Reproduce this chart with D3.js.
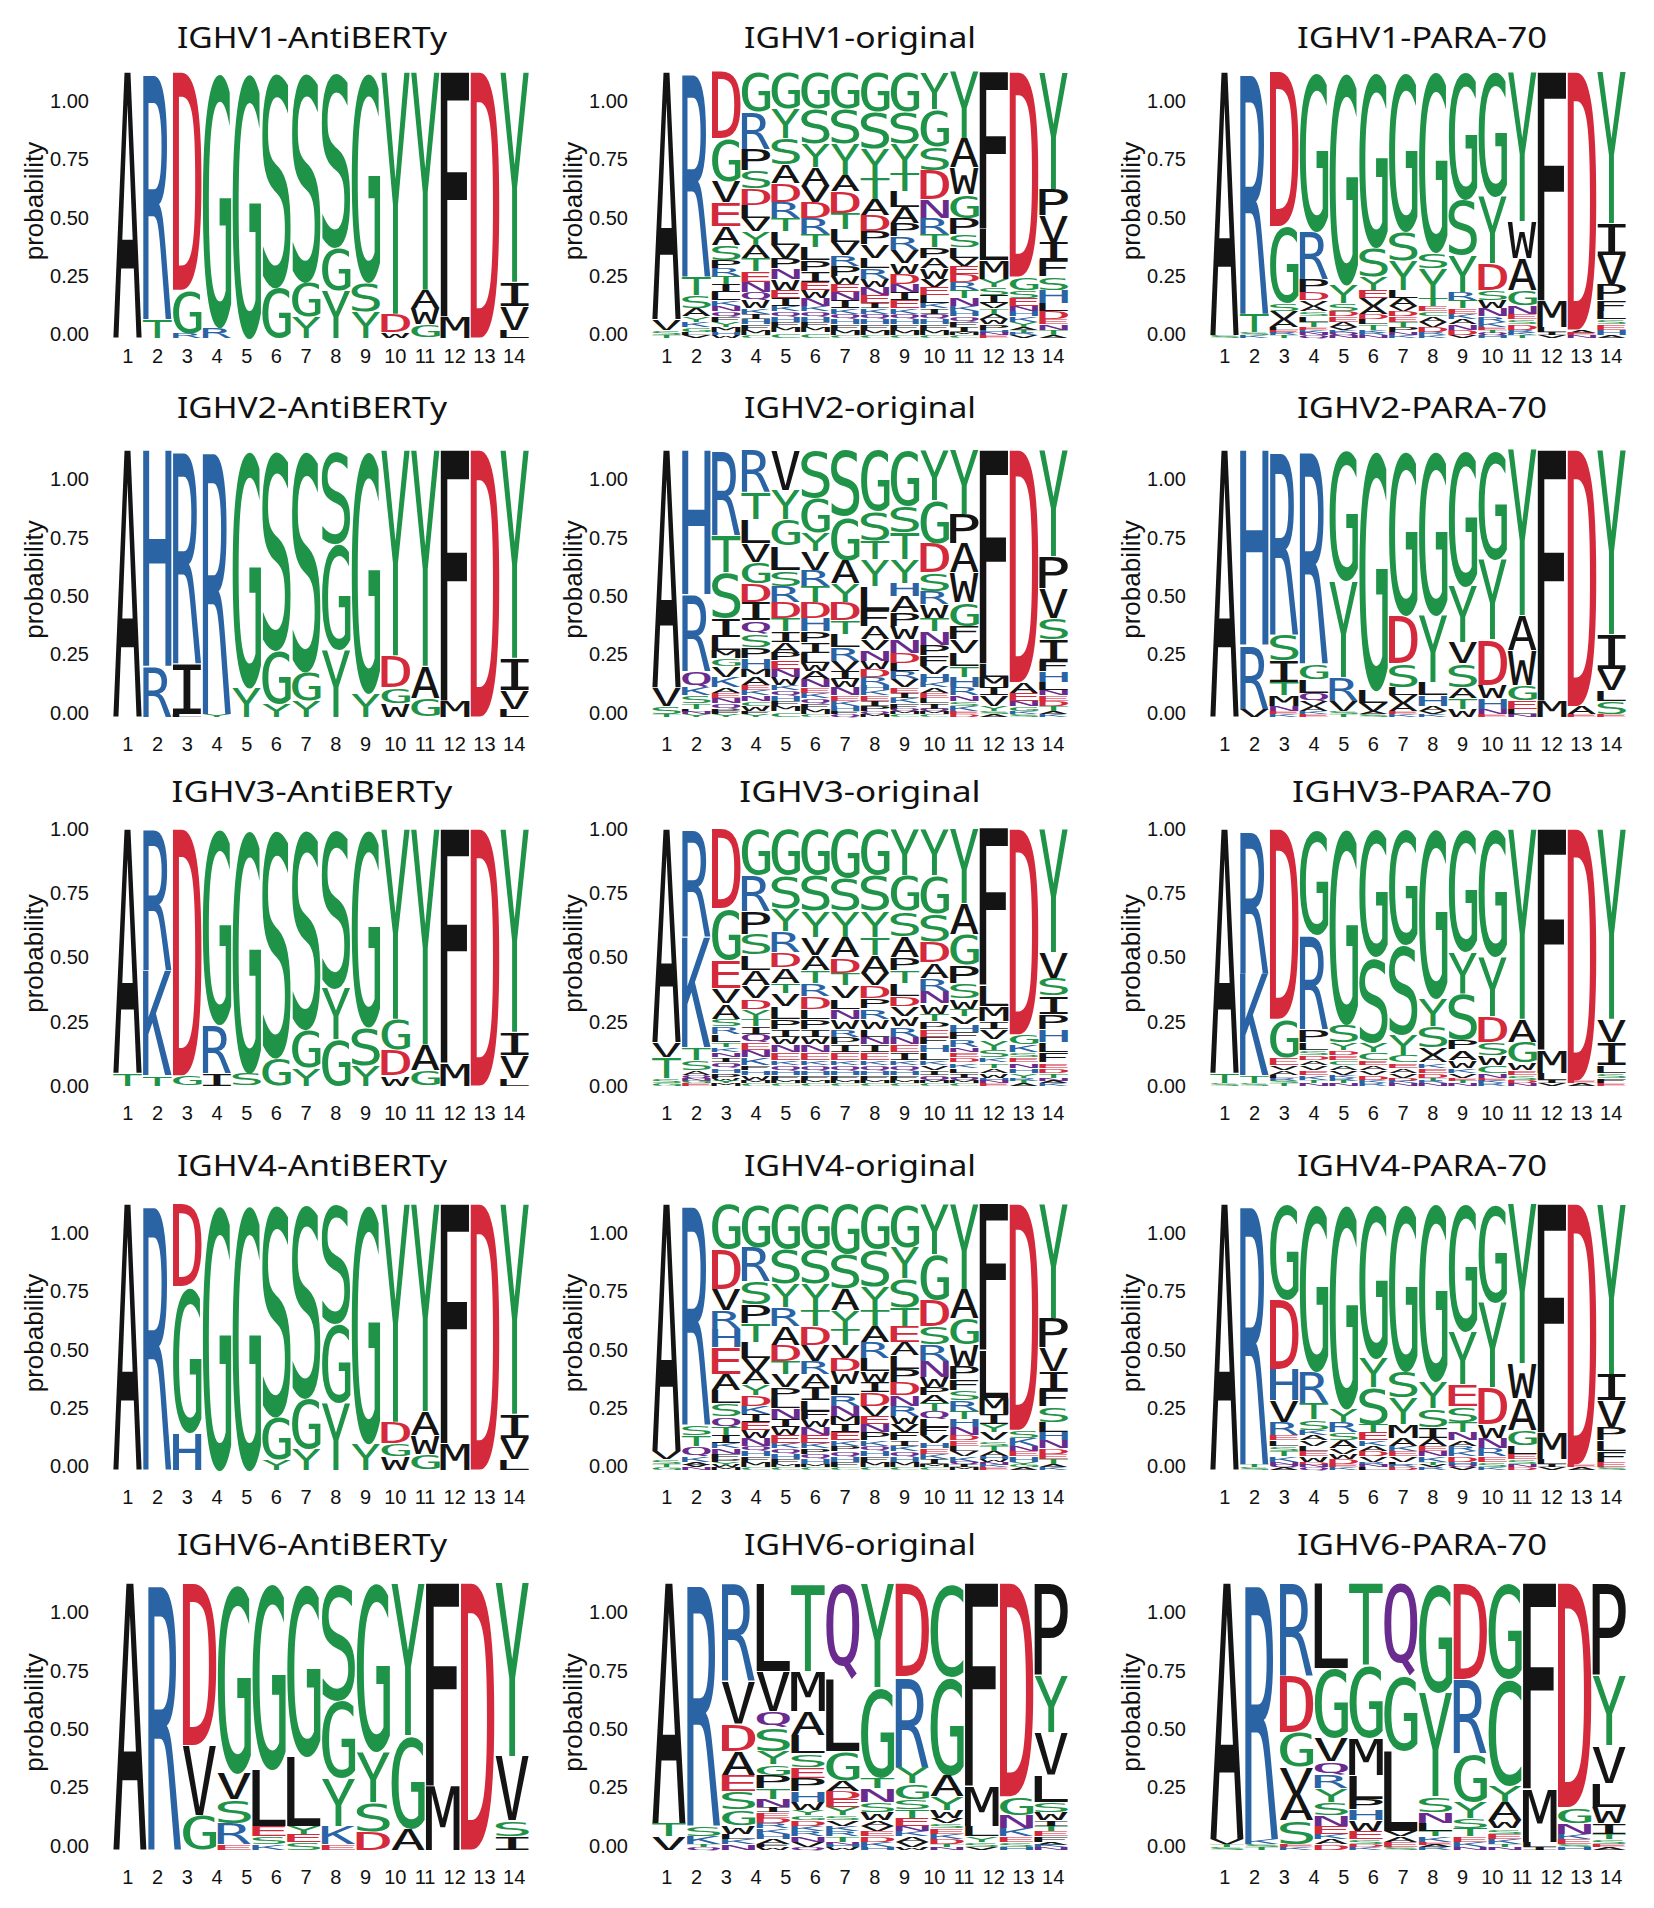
<!DOCTYPE html>
<html>
<head>
<meta charset="utf-8">
<script src="https://cdnjs.cloudflare.com/ajax/libs/d3/7.8.5/d3.min.js"></script>
<style>
  body { margin: 0; background: #fff; }
</style>
</head>
<body>
<svg id="chart"></svg>
<script>
// Each column lists residues from the top of the stack down: [residue, probability]

const ighv1AntiBERTy = [
  [['A', 1]],
  [['R', .93], ['T', .07]],
  [['D', .82], ['G', .16], ['R', .02]],
  [['G', .96], ['R', .04]],
  [['G', 1]],
  [['S', .81], ['G', .19]],
  [['S', .79], ['G', .13], ['Y', .08]],
  [['S', .66], ['G', .16], ['Y', .18]],
  [['G', .79], ['S', .11], ['Y', .10]],
  [['Y', .91], ['D', .07], ['W', .02]],
  [['Y', .82], ['A', .07], ['W', .06], ['G', .05]],
  [['F', .92], ['M', .08]],
  [['D', 1]],
  [['Y', .79], ['I', .09], ['V', .09], ['L', .03]]
];

const ighv1Original = [
  [['A', .93], ['V', .04], ['S', .02], ['T', .01]],
  [['R', .77], ['T', .07], ['S', .05], ['A', .03], ['Y', .02], ['K', .02], ['G', .02], ['L', .01], ['V', .01]],
  [['D', .25], ['G', .16], ['V', .08], ['E', .09], ['A', .07], ['S', .06], ['P', .03], ['R', .03], ['T', .03], ['I', .03], ['L', .03], ['K', .02], ['N', .02], ['Q', .02], ['F', .02], ['Y', .02], ['M', .02], ['H', .01], ['W', .01]],
  [['G', .15], ['R', .14], ['P', .08], ['S', .07], ['D', .06], ['L', .05], ['V', .05], ['Y', .05], ['A', .05], ['T', .05], ['E', .04], ['N', .04], ['Q', .03], ['W', .03], ['K', .02], ['I', .02], ['H', .02], ['F', .02], ['M', .02], ['C', .01]],
  [['G', .14], ['Y', .11], ['S', .10], ['A', .07], ['D', .07], ['R', .06], ['T', .05], ['L', .05], ['V', .05], ['P', .04], ['N', .04], ['W', .04], ['E', .03], ['I', .03], ['K', .02], ['Q', .02], ['H', .02], ['F', .02], ['M', .02], ['C', .02]],
  [['G', .14], ['S', .13], ['Y', .09], ['A', .07], ['V', .06], ['D', .06], ['R', .06], ['T', .05], ['L', .05], ['P', .04], ['I', .04], ['E', .03], ['W', .03], ['N', .03], ['K', .02], ['Q', .02], ['H', .02], ['F', .02], ['M', .02], ['C', .02]],
  [['G', .14], ['S', .13], ['Y', .12], ['A', .06], ['D', .08], ['T', .06], ['L', .05], ['V', .05], ['R', .04], ['P', .04], ['W', .03], ['E', .03], ['N', .03], ['I', .03], ['K', .02], ['Q', .02], ['H', .02], ['F', .02], ['M', .02], ['C', .01]],
  [['G', .15], ['S', .14], ['Y', .11], ['T', .08], ['A', .06], ['D', .06], ['P', .05], ['V', .05], ['L', .04], ['R', .04], ['W', .03], ['N', .03], ['E', .03], ['I', .02], ['K', .02], ['Q', .02], ['H', .02], ['F', .02], ['M', .02], ['C', .01]],
  [['G', .15], ['S', .12], ['Y', .11], ['T', .07], ['L', .06], ['A', .06], ['P', .05], ['R', .05], ['V', .05], ['W', .04], ['D', .04], ['N', .03], ['I', .03], ['E', .03], ['K', .02], ['Q', .02], ['H', .02], ['F', .02], ['M', .02], ['C', .01]],
  [['Y', .14], ['G', .14], ['S', .09], ['D', .11], ['N', .07], ['R', .06], ['T', .05], ['P', .04], ['A', .04], ['W', .04], ['V', .03], ['E', .03], ['L', .03], ['K', .02], ['I', .02], ['Q', .02], ['H', .02], ['F', .02], ['M', .02], ['C', .01]],
  [['Y', .25], ['A', .11], ['W', .10], ['G', .09], ['P', .06], ['S', .05], ['L', .04], ['V', .03], ['E', .03], ['D', .03], ['R', .03], ['T', .03], ['N', .03], ['K', .02], ['H', .02], ['Q', .02], ['F', .02], ['I', .02], ['M', .01], ['C', .01]],
  [['F', .59], ['L', .12], ['M', .07], ['Y', .03], ['S', .03], ['I', .03], ['V', .02], ['T', .02], ['A', .02], ['W', .02], ['P', .02], ['H', .01], ['N', .01], ['E', .01]],
  [['D', .77], ['G', .05], ['S', .03], ['E', .03], ['N', .02], ['H', .02], ['K', .02], ['Y', .02], ['A', .01], ['T', .01], ['R', .01], ['V', .01]],
  [['Y', .44], ['P', .10], ['V', .10], ['I', .07], ['F', .06], ['S', .05], ['H', .05], ['L', .03], ['D', .03], ['E', .02], ['N', .02], ['T', .02], ['A', .01]]
];

const ighv1Para70 = [
  [['A', .99], ['S', .01]],
  [['R', .91], ['T', .07], ['S', .01], ['K', .01]],
  [['D', .58], ['G', .29], ['S', .03], ['V', .03], ['A', .03], ['L', .01], ['E', .01], ['R', .01], ['T', .01]],
  [['G', .60], ['R', .18], ['P', .05], ['D', .03], ['V', .02], ['A', .02], ['S', .02], ['L', .02], ['T', .02], ['E', .01], ['K', .01], ['N', .01], ['Q', .01]],
  [['G', .80], ['Y', .07], ['S', .03], ['D', .02], ['E', .02], ['A', .02], ['V', .01], ['K', .01], ['Q', .01], ['N', .01]],
  [['G', .66], ['S', .11], ['Y', .05], ['E', .03], ['V', .03], ['A', .03], ['D', .02], ['L', .02], ['T', .02], ['K', .01], ['R', .01], ['N', .01]],
  [['G', .60], ['S', .11], ['Y', .11], ['L', .03], ['A', .03], ['V', .02], ['D', .02], ['E', .02], ['T', .02], ['P', .02], ['N', .01], ['K', .01]],
  [['G', .68], ['S', .06], ['Y', .11], ['T', .03], ['E', .02], ['C', .02], ['A', .02], ['V', .02], ['D', .02], ['R', .01], ['K', .01]],
  [['G', .48], ['S', .21], ['Y', .14], ['R', .03], ['T', .03], ['E', .02], ['K', .02], ['A', .02], ['N', .02], ['D', .02], ['V', .01]],
  [['G', .47], ['Y', .25], ['D', .10], ['S', .04], ['W', .03], ['N', .03], ['R', .02], ['K', .02], ['E', .01], ['T', .01], ['Q', .01], ['H', .01]],
  [['Y', .56], ['W', .14], ['A', .12], ['G', .06], ['N', .03], ['E', .02], ['S', .02], ['D', .02], ['R', .01], ['K', .01], ['T', .01]],
  [['F', .86], ['M', .10], ['L', .02], ['I', .01], ['V', .01]],
  [['D', .97], ['A', .01], ['E', .01], ['N', .01]],
  [['Y', .57], ['I', .12], ['V', .11], ['P', .06], ['F', .04], ['L', .03], ['S', .02], ['E', .02], ['H', .02], ['A', .01]]
];

const ighv2AntiBERTy = [
  [['A', 1]],
  [['H', .81], ['R', .19]],
  [['R', .80], ['I', .19], ['L', .01]],
  [['R', .99], ['Y', .01]],
  [['G', .89], ['Y', .11]],
  [['S', .75], ['G', .20], ['Y', .05]],
  [['S', .83], ['G', .11], ['Y', .06]],
  [['S', .35], ['G', .40], ['Y', .25]],
  [['G', .91], ['Y', .09]],
  [['Y', .77], ['D', .12], ['G', .06], ['W', .05]],
  [['Y', .81], ['A', .12], ['G', .07]],
  [['F', .94], ['M', .06]],
  [['D', 1]],
  [['Y', .78], ['I', .12], ['V', .07], ['L', .03]]
];

const ighv2Original = [
  [['A', .89], ['V', .07], ['S', .03], ['T', .01]],
  [['H', .54], ['R', .29], ['Q', .06], ['K', .03], ['S', .03], ['T', .02], ['L', .01], ['N', .01], ['Y', .01]],
  [['R', .32], ['T', .14], ['S', .17], ['I', .07], ['L', .05], ['M', .03], ['G', .03], ['V', .04], ['K', .04], ['A', .02], ['E', .02], ['N', .02], ['Q', .02], ['P', .01], ['F', .01], ['Y', .01]],
  [['R', .16], ['T', .10], ['L', .09], ['V', .07], ['G', .08], ['D', .07], ['I', .07], ['Q', .05], ['S', .05], ['P', .04], ['H', .04], ['M', .03], ['A', .03], ['E', .02], ['K', .02], ['N', .02], ['C', .02], ['W', .02], ['F', .01], ['Y', .01]],
  [['V', .15], ['Y', .11], ['G', .10], ['L', .09], ['S', .06], ['R', .06], ['D', .06], ['T', .05], ['I', .04], ['A', .04], ['P', .03], ['E', .03], ['N', .03], ['W', .03], ['K', .02], ['Q', .02], ['H', .02], ['F', .02], ['M', .02], ['C', .02]],
  [['S', .18], ['G', .13], ['Y', .07], ['V', .07], ['R', .06], ['T', .06], ['D', .06], ['H', .05], ['P', .04], ['I', .04], ['L', .04], ['W', .03], ['A', .03], ['N', .03], ['E', .02], ['K', .02], ['Q', .02], ['F', .02], ['M', .02], ['C', .01]],
  [['S', .25], ['G', .16], ['A', .09], ['Y', .07], ['D', .07], ['T', .05], ['L', .05], ['R', .05], ['V', .04], ['I', .03], ['W', .03], ['N', .03], ['E', .02], ['K', .02], ['H', .02], ['F', .01], ['Q', .01]],
  [['G', .23], ['S', .11], ['T', .07], ['Y', .10], ['L', .09], ['F', .06], ['A', .05], ['V', .04], ['N', .04], ['W', .03], ['D', .03], ['R', .03], ['H', .02], ['K', .02], ['E', .02], ['I', .02], ['P', .02], ['Q', .01], ['M', .01]],
  [['G', .21], ['S', .10], ['T', .10], ['Y', .09], ['H', .05], ['A', .06], ['P', .05], ['W', .05], ['N', .05], ['D', .04], ['L', .03], ['R', .03], ['V', .03], ['E', .02], ['I', .02], ['K', .02], ['F', .02], ['Q', .01], ['M', .01], ['C', .01]],
  [['Y', .19], ['G', .16], ['D', .11], ['S', .07], ['R', .05], ['W', .05], ['T', .05], ['N', .05], ['P', .04], ['F', .04], ['V', .03], ['H', .03], ['K', .02], ['A', .02], ['E', .02], ['L', .02], ['I', .02], ['Q', .01], ['M', .01], ['C', .01]],
  [['Y', .24], ['P', .11], ['A', .11], ['W', .11], ['G', .09], ['F', .05], ['V', .05], ['L', .05], ['T', .04], ['H', .04], ['R', .03], ['N', .02], ['S', .02], ['K', .02], ['E', .01], ['D', .01]],
  [['F', .80], ['L', .05], ['M', .04], ['I', .03], ['V', .04], ['Y', .02], ['S', .01], ['A', .01]],
  [['D', .87], ['A', .04], ['E', .03], ['N', .02], ['G', .02], ['K', .01], ['S', .01]],
  [['Y', .40], ['P', .12], ['V', .11], ['S', .08], ['I', .08], ['F', .04], ['H', .04], ['L', .03], ['N', .02], ['E', .02], ['D', .02], ['T', .02], ['A', .01], ['K', .01]]
];

const ighv2Para70 = [
  [['A', 1]],
  [['H', .73], ['R', .24], ['V', .03]],
  [['R', .69], ['S', .10], ['I', .08], ['T', .05], ['M', .04], ['N', .02], ['E', .01], ['K', .01]],
  [['R', .80], ['G', .06], ['L', .05], ['Q', .03], ['V', .02], ['A', .02], ['K', .01], ['E', .01]],
  [['G', .49], ['Y', .36], ['R', .09], ['V', .04], ['S', .01], ['T', .01]],
  [['G', .90], ['L', .05], ['V', .03], ['A', .01], ['S', .01]],
  [['G', .62], ['D', .18], ['S', .09], ['L', .03], ['V', .03], ['A', .03], ['E', .01], ['K', .01]],
  [['G', .62], ['Y', .25], ['L', .05], ['H', .04], ['A', .02], ['V', .01], ['K', .01]],
  [['G', .51], ['Y', .21], ['V', .08], ['S', .09], ['A', .04], ['T', .04], ['W', .03]],
  [['G', .41], ['Y', .30], ['D', .17], ['W', .05], ['H', .04], ['N', .02], ['E', .01]],
  [['Y', .62], ['A', .13], ['W', .13], ['G', .06], ['E', .03], ['L', .02], ['N', .01]],
  [['F', .94], ['M', .06]],
  [['D', .96], ['A', .03], ['E', .01]],
  [['Y', .69], ['I', .13], ['V', .08], ['L', .04], ['S', .05], ['E', .01]]
];

const ighv3AntiBERTy = [
  [['A', .95], ['T', .05]],
  [['R', .55], ['K', .41], ['T', .04]],
  [['D', .96], ['G', .04]],
  [['G', .76], ['R', .19], ['I', .05]],
  [['G', .95], ['S', .05]],
  [['S', .89], ['G', .11]],
  [['S', .78], ['G', .15], ['Y', .07]],
  [['S', .62], ['Y', .20], ['G', .18]],
  [['G', .77], ['S', .15], ['Y', .08]],
  [['Y', .74], ['G', .12], ['D', .10], ['W', .04]],
  [['Y', .84], ['A', .10], ['G', .06]],
  [['F', .91], ['M', .09]],
  [['D', 1]],
  [['Y', .79], ['I', .09], ['V', .09], ['L', .03]]
];

const ighv3Original = [
  [['A', .83], ['V', .06], ['T', .08], ['S', .02], ['G', .01]],
  [['R', .42], ['K', .43], ['T', .05], ['S', .04], ['A', .02], ['Q', .01], ['N', .01], ['G', .01], ['E', .01]],
  [['D', .31], ['G', .20], ['E', .11], ['V', .06], ['A', .06], ['S', .03], ['R', .03], ['L', .03], ['T', .02], ['K', .02], ['N', .02], ['I', .02], ['Q', .02], ['H', .02], ['P', .02], ['W', .01], ['Y', .01], ['M', .01]],
  [['G', .18], ['R', .14], ['P', .09], ['S', .08], ['L', .06], ['A', .06], ['V', .05], ['D', .04], ['Y', .04], ['T', .03], ['I', .03], ['Q', .03], ['E', .03], ['N', .03], ['K', .03], ['F', .02], ['H', .02], ['W', .02], ['M', .01], ['C', .01]],
  [['G', .18], ['S', .13], ['Y', .09], ['R', .08], ['D', .06], ['A', .06], ['T', .04], ['V', .05], ['L', .05], ['P', .04], ['I', .03], ['W', .03], ['N', .03], ['E', .03], ['K', .02], ['Q', .02], ['H', .02], ['F', .02], ['M', .01], ['C', .01]],
  [['G', .18], ['S', .14], ['Y', .10], ['V', .07], ['A', .06], ['T', .05], ['R', .05], ['D', .05], ['L', .04], ['P', .04], ['I', .03], ['W', .03], ['N', .03], ['E', .03], ['K', .02], ['Q', .02], ['H', .02], ['F', .02], ['M', .01], ['C', .01]],
  [['G', .19], ['S', .13], ['Y', .10], ['A', .08], ['D', .06], ['T', .05], ['V', .05], ['L', .04], ['N', .04], ['W', .04], ['R', .03], ['P', .03], ['I', .03], ['E', .03], ['K', .02], ['Q', .02], ['H', .02], ['F', .02], ['M', .01], ['C', .01]],
  [['G', .18], ['S', .14], ['Y', .10], ['T', .07], ['A', .07], ['V', .05], ['D', .05], ['P', .04], ['R', .04], ['W', .04], ['L', .03], ['N', .03], ['I', .03], ['E', .03], ['K', .02], ['Q', .02], ['H', .02], ['F', .02], ['M', .01], ['C', .01]],
  [['Y', .18], ['G', .14], ['S', .10], ['A', .08], ['P', .05], ['T', .05], ['L', .05], ['D', .04], ['V', .04], ['W', .04], ['R', .04], ['N', .03], ['E', .03], ['I', .03], ['K', .02], ['Q', .02], ['H', .02], ['F', .02], ['M', .01], ['C', .01]],
  [['Y', .18], ['G', .15], ['S', .11], ['D', .08], ['A', .06], ['R', .05], ['N', .05], ['W', .04], ['T', .03], ['P', .03], ['E', .03], ['F', .03], ['H', .03], ['L', .03], ['K', .02], ['V', .02], ['I', .02], ['Q', .02], ['M', .01], ['C', .01]],
  [['Y', .29], ['A', .12], ['G', .12], ['P', .07], ['S', .06], ['W', .04], ['T', .03], ['V', .03], ['H', .03], ['F', .03], ['R', .03], ['N', .02], ['E', .02], ['D', .02], ['K', .02], ['L', .02], ['I', .02], ['Q', .01], ['M', .01], ['C', .01]],
  [['F', .61], ['L', .08], ['M', .06], ['I', .03], ['V', .04], ['Y', .04], ['S', .03], ['K', .02], ['T', .02], ['A', .02], ['W', .02], ['H', .01], ['N', .01], ['E', .01]],
  [['D', .80], ['G', .04], ['K', .03], ['S', .02], ['E', .02], ['N', .02], ['H', .02], ['Y', .02], ['R', .01], ['T', .01], ['A', .01]],
  [['Y', .48], ['V', .10], ['S', .07], ['I', .07], ['P', .06], ['H', .05], ['L', .04], ['F', .04], ['E', .02], ['D', .02], ['T', .02], ['N', .01], ['A', .01], ['K', .01]]
];

const ighv3Para70 = [
  [['A', .95], ['T', .04], ['S', .01]],
  [['R', .56], ['K', .40], ['T', .03], ['S', .01]],
  [['D', .74], ['G', .15], ['E', .03], ['V', .02], ['A', .02], ['L', .01], ['R', .01], ['S', .01], ['T', .01]],
  [['G', .41], ['R', .37], ['P', .05], ['L', .03], ['S', .02], ['D', .02], ['A', .02], ['V', .02], ['E', .02], ['K', .02], ['T', .01], ['N', .01]],
  [['G', .76], ['S', .07], ['Y', .03], ['D', .02], ['E', .02], ['C', .02], ['A', .02], ['V', .02], ['K', .01], ['R', .01], ['T', .01], ['N', .01]],
  [['G', .50], ['S', .33], ['Y', .04], ['C', .03], ['E', .02], ['A', .02], ['V', .02], ['D', .02], ['K', .01], ['R', .01]],
  [['G', .45], ['S', .35], ['Y', .08], ['C', .03], ['E', .02], ['A', .02], ['V', .02], ['D', .01], ['K', .01], ['N', .01]],
  [['G', .66], ['Y', .11], ['S', .08], ['V', .03], ['A', .03], ['K', .02], ['E', .02], ['D', .02], ['T', .01], ['R', .01], ['N', .01]],
  [['G', .48], ['Y', .16], ['S', .18], ['P', .04], ['A', .04], ['W', .03], ['K', .02], ['V', .02], ['E', .01], ['T', .01], ['N', .01]],
  [['G', .50], ['Y', .23], ['D', .10], ['S', .05], ['W', .04], ['C', .03], ['N', .02], ['E', .01], ['K', .01], ['R', .01]],
  [['Y', .74], ['A', .09], ['G', .08], ['W', .03], ['E', .02], ['S', .02], ['D', .01], ['N', .01]],
  [['F', .86], ['M', .09], ['L', .03], ['I', .01], ['V', .01]],
  [['D', .98], ['E', .01], ['A', .01]],
  [['Y', .74], ['V', .09], ['I', .09], ['L', .03], ['S', .02], ['F', .02], ['E', .01]]
];

const ighv4AntiBERTy = [
  [['A', 1]],
  [['R', 1]],
  [['D', .31], ['G', .55], ['H', .14]],
  [['G', 1]],
  [['G', 1]],
  [['S', .80], ['G', .16], ['Y', .04]],
  [['S', .73], ['G', .19], ['Y', .08]],
  [['S', .45], ['G', .30], ['Y', .25]],
  [['G', .90], ['Y', .10]],
  [['Y', .82], ['D', .08], ['G', .05], ['W', .05]],
  [['Y', .78], ['A', .09], ['W', .07], ['G', .06]],
  [['F', .90], ['M', .10]],
  [['D', 1]],
  [['Y', .79], ['I', .09], ['V', .08], ['L', .04]]
];

const ighv4Original = [
  [['A', .93], ['V', .03], ['S', .02], ['T', .01], ['G', .01]],
  [['R', .83], ['S', .04], ['T', .04], ['Q', .04], ['K', .02], ['A', .01], ['V', .01], ['N', .01]],
  [['G', .17], ['D', .15], ['V', .08], ['R', .07], ['H', .07], ['E', .10], ['A', .06], ['L', .05], ['S', .05], ['Q', .04], ['T', .03], ['I', .03], ['K', .02], ['N', .02], ['F', .02], ['P', .01], ['Y', .01], ['W', .01], ['M', .01]],
  [['G', .16], ['R', .13], ['S', .09], ['P', .07], ['T', .07], ['L', .06], ['V', .05], ['A', .05], ['Y', .04], ['D', .04], ['K', .03], ['I', .03], ['E', .03], ['W', .03], ['N', .03], ['Q', .02], ['H', .02], ['F', .02], ['M', .02], ['C', .01]],
  [['G', .17], ['S', .13], ['Y', .09], ['R', .07], ['A', .07], ['D', .06], ['T', .05], ['V', .05], ['P', .04], ['L', .04], ['N', .04], ['I', .03], ['W', .03], ['E', .03], ['K', .02], ['Q', .02], ['H', .02], ['F', .02], ['M', .01], ['C', .01]],
  [['G', .17], ['S', .13], ['Y', .10], ['T', .06], ['D', .07], ['V', .06], ['R', .05], ['A', .05], ['I', .05], ['L', .04], ['F', .03], ['W', .03], ['N', .03], ['E', .03], ['K', .02], ['P', .02], ['Q', .02], ['H', .02], ['M', .01], ['C', .01]],
  [['G', .19], ['S', .13], ['A', .08], ['Y', .07], ['T', .06], ['V', .05], ['D', .05], ['W', .05], ['L', .04], ['R', .04], ['N', .04], ['M', .03], ['I', .03], ['E', .03], ['K', .02], ['P', .02], ['Q', .02], ['H', .02], ['F', .02], ['C', .01]],
  [['G', .17], ['S', .14], ['Y', .09], ['T', .06], ['A', .06], ['R', .06], ['L', .05], ['W', .04], ['I', .04], ['D', .05], ['V', .04], ['E', .03], ['N', .03], ['P', .03], ['K', .02], ['Q', .02], ['H', .02], ['F', .02], ['M', .02], ['C', .01]],
  [['G', .16], ['Y', .12], ['S', .11], ['T', .07], ['E', .06], ['A', .05], ['L', .05], ['P', .05], ['D', .05], ['N', .04], ['R', .04], ['W', .03], ['V', .03], ['F', .03], ['I', .02], ['K', .02], ['Q', .02], ['H', .02], ['M', .02], ['C', .01]],
  [['Y', .19], ['G', .17], ['D', .10], ['S', .07], ['R', .06], ['N', .06], ['W', .04], ['P', .03], ['A', .03], ['T', .03], ['Q', .03], ['L', .03], ['F', .03], ['V', .03], ['H', .02], ['E', .02], ['K', .02], ['I', .02], ['M', .01], ['C', .01]],
  [['Y', .32], ['A', .11], ['G', .10], ['W', .08], ['P', .05], ['F', .04], ['S', .04], ['R', .04], ['T', .03], ['H', .03], ['N', .03], ['D', .02], ['E', .02], ['L', .02], ['V', .02], ['K', .02], ['Q', .01], ['I', .01], ['M', .01]],
  [['F', .55], ['L', .18], ['M', .06], ['I', .04], ['Y', .03], ['V', .03], ['S', .02], ['T', .02], ['A', .02], ['H', .01], ['W', .01], ['N', .01], ['K', .01], ['E', .01]],
  [['D', .85], ['S', .03], ['K', .03], ['N', .02], ['E', .02], ['H', .02], ['Y', .01], ['G', .01], ['A', .01]],
  [['Y', .43], ['P', .11], ['V', .09], ['I', .07], ['F', .06], ['S', .06], ['L', .04], ['H', .03], ['N', .03], ['D', .02], ['E', .02], ['T', .02], ['A', .01], ['K', .01]]
];

const ighv4Para70 = [
  [['A', 1]],
  [['R', .98], ['T', .01], ['S', .01]],
  [['G', .36], ['D', .26], ['H', .12], ['V', .08], ['R', .05], ['E', .02], ['L', .02], ['S', .02], ['T', .02], ['K', .02], ['N', .01], ['Q', .01], ['A', .01]],
  [['G', .63], ['R', .12], ['T', .06], ['S', .04], ['K', .02], ['A', .02], ['V', .02], ['L', .02], ['E', .02], ['W', .02], ['D', .01], ['N', .01], ['Q', .01]],
  [['G', .77], ['Y', .05], ['R', .04], ['S', .03], ['A', .03], ['V', .02], ['W', .02], ['D', .02], ['E', .01], ['K', .01]],
  [['G', .58], ['Y', .11], ['S', .14], ['T', .03], ['E', .03], ['K', .02], ['A', .02], ['D', .02], ['V', .02], ['R', .01], ['N', .01], ['L', .01]],
  [['G', .63], ['S', .10], ['Y', .10], ['M', .05], ['A', .03], ['K', .02], ['E', .02], ['V', .02], ['L', .01], ['R', .01], ['D', .01]],
  [['G', .67], ['Y', .10], ['S', .07], ['I', .04], ['A', .03], ['E', .02], ['N', .02], ['K', .02], ['T', .01], ['V', .01], ['R', .01]],
  [['G', .48], ['Y', .20], ['E', .08], ['S', .06], ['T', .04], ['N', .03], ['A', .02], ['R', .02], ['K', .02], ['D', .02], ['H', .01], ['Q', .01], ['V', .01]],
  [['G', .37], ['Y', .32], ['D', .14], ['W', .05], ['N', .04], ['R', .03], ['E', .02], ['S', .02], ['K', .01]],
  [['Y', .60], ['W', .13], ['A', .12], ['G', .06], ['L', .03], ['E', .02], ['S', .02], ['N', .01], ['D', .01]],
  [['F', .86], ['M', .10], ['L', .02], ['I', .01], ['V', .01]],
  [['D', .98], ['E', .01], ['A', .01]],
  [['Y', .64], ['I', .10], ['V', .10], ['P', .05], ['L', .04], ['F', .04], ['E', .02], ['S', .01]]
];

// IGHV6 logos hold 12 columns under the shared 1-14 position labels
const ighv6AntiBERTy = [
  [['A', 1]],
  [['R', 1]],
  [['D', .61], ['V', .26], ['G', .13]],
  [['G', .71], ['V', .10], ['S', .09], ['R', .08], ['E', .02]],
  [['G', .70], ['L', .21], ['E', .04], ['S', .03], ['K', .02]],
  [['G', .65], ['L', .26], ['Y', .03], ['E', .03], ['S', .03]],
  [['S', .44], ['G', .29], ['Y', .18], ['K', .07], ['E', .02]],
  [['G', .63], ['Y', .19], ['S', .11], ['D', .07]],
  [['Y', .57], ['G', .35], ['A', .08]],
  [['F', .76], ['M', .24]],
  [['D', 1]],
  [['Y', .65], ['V', .24], ['S', .06], ['I', .05]]
];

const ighv6Original = [
  [['A', .90], ['T', .05], ['V', .05]],
  [['R', .91], ['S', .04], ['K', .03], ['T', .01], ['Q', .01]],
  [['R', .37], ['V', .16], ['D', .10], ['A', .09], ['E', .06], ['S', .07], ['G', .06], ['W', .03], ['L', .02], ['K', .02], ['N', .02]],
  [['L', .33], ['V', .15], ['Q', .06], ['S', .09], ['Y', .05], ['G', .04], ['P', .05], ['T', .04], ['N', .03], ['I', .02], ['E', .02], ['D', .02], ['R', .02], ['K', .02], ['H', .02], ['A', .02], ['F', .01], ['W', .01]],
  [['T', .33], ['M', .15], ['A', .09], ['L', .07], ['S', .05], ['E', .04], ['P', .05], ['H', .04], ['W', .03], ['Y', .02], ['G', .02], ['D', .02], ['K', .02], ['R', .02], ['N', .02], ['V', .02], ['Q', .01]],
  [['Q', .36], ['L', .27], ['G', .11], ['A', .04], ['D', .03], ['E', .03], ['Y', .03], ['S', .02], ['V', .02], ['K', .02], ['R', .02], ['T', .02], ['N', .01], ['H', .01], ['W', .01]],
  [['Y', .39], ['G', .34], ['T', .04], ['N', .05], ['S', .04], ['W', .03], ['A', .02], ['V', .02], ['E', .02], ['D', .02], ['K', .02], ['H', .01]],
  [['D', .35], ['R', .34], ['Y', .06], ['G', .06], ['S', .04], ['T', .03], ['E', .03], ['N', .02], ['K', .02], ['A', .02], ['V', .02], ['W', .01]],
  [['C', .35], ['G', .37], ['A', .08], ['Y', .05], ['W', .03], ['V', .02], ['S', .02], ['E', .02], ['K', .02], ['D', .02], ['T', .01], ['N', .01]],
  [['F', .76], ['M', .15], ['L', .04], ['Y', .02], ['S', .02], ['V', .01]],
  [['D', .80], ['G', .07], ['N', .05], ['K', .03], ['E', .02], ['S', .02], ['H', .01]],
  [['P', .35], ['Y', .21], ['V', .16], ['L', .10], ['S', .04], ['W', .03], ['I', .02], ['T', .02], ['E', .02], ['F', .02], ['A', .01], ['K', .01], ['N', .01]]
];

const ighv6Para70 = [
  [['A', .96], ['V', .02], ['T', .01], ['S', .01]],
  [['R', .96], ['K', .02], ['S', .01], ['T', .01]],
  [['R', .35], ['D', .21], ['G', .13], ['V', .10], ['A', .10], ['S', .09], ['E', .01], ['K', .01]],
  [['L', .32], ['G', .26], ['V', .09], ['Q', .05], ['R', .05], ['Y', .05], ['S', .05], ['N', .04], ['E', .03], ['K', .02], ['A', .02], ['D', .02]],
  [['T', .31], ['G', .27], ['M', .14], ['L', .09], ['P', .04], ['H', .04], ['W', .04], ['E', .03], ['S', .02], ['D', .01], ['K', .01]],
  [['Q', .35], ['G', .28], ['L', .30], ['V', .02], ['A', .02], ['E', .02], ['S', .01]],
  [['G', .41], ['Y', .39], ['S', .06], ['N', .04], ['L', .03], ['T', .02], ['K', .02], ['E', .01], ['A', .01], ['R', .01]],
  [['D', .36], ['R', .28], ['G', .18], ['Y', .06], ['S', .04], ['T', .03], ['E', .02], ['K', .02], ['N', .01]],
  [['G', .36], ['C', .40], ['Y', .06], ['A', .07], ['W', .03], ['S', .02], ['E', .02], ['K', .02], ['T', .01], ['N', .01]],
  [['F', .77], ['M', .20], ['L', .02], ['I', .01]],
  [['D', .84], ['G', .06], ['N', .04], ['K', .02], ['E', .02], ['S', .01], ['H', .01]],
  [['P', .35], ['Y', .26], ['V', .14], ['L', .09], ['W', .06], ['I', .04], ['T', .02], ['S', .02], ['E', .01], ['A', .01]]
];

const probabilityTicks = [0, 0.25, 0.5, 0.75, 1];
const positionLabels = ['1', '2', '3', '4', '5', '6', '7', '8', '9', '10', '11', '12', '13', '14'];

const panelTitles = [
  'IGHV1-AntiBERTy', 'IGHV1-original', 'IGHV1-PARA-70',
  'IGHV2-AntiBERTy', 'IGHV2-original', 'IGHV2-PARA-70',
  'IGHV3-AntiBERTy', 'IGHV3-original', 'IGHV3-PARA-70',
  'IGHV4-AntiBERTy', 'IGHV4-original', 'IGHV4-PARA-70',
  'IGHV6-AntiBERTy', 'IGHV6-original', 'IGHV6-PARA-70'
];
const panelColumns = [
  ighv1AntiBERTy, ighv1Original, ighv1Para70,
  ighv2AntiBERTy, ighv2Original, ighv2Para70,
  ighv3AntiBERTy, ighv3Original, ighv3Para70,
  ighv4AntiBERTy, ighv4Original, ighv4Para70,
  ighv6AntiBERTy, ighv6Original, ighv6Para70
];

// ---- layout ----
const width = 1654;
const height = 1908;
const logoWidth = 416;
const colLogoLeft = [113, 652, 1210];
const titleCenter = [312, 860, 1422];
const titleWidth = [270, 232, 250];
// axisFrac: where the 0.00 and 1.00 labels sit, as a fraction of the logo height
const rowLayout = [
  { top: 72, bottom: 338, titleY: 48, numGap: 11, axisFrac: [0.015, 0.89] },
  { top: 450, bottom: 717, titleY: 418, numGap: 20, axisFrac: [0.015, 0.89] },
  { top: 829, bottom: 1086, titleY: 802, numGap: 20, axisFrac: [0, 1] },
  { top: 1204, bottom: 1470, titleY: 1176, numGap: 20, axisFrac: [0.015, 0.89] },
  { top: 1583, bottom: 1850, titleY: 1555, numGap: 20, axisFrac: [0.015, 0.89] }
];

const LETTER_FONT = 'DejaVu Sans Mono';
const LABEL_FONT = '"Liberation Sans", Arial, sans-serif';
const TITLE_FONT = '"Noto Sans", "Open Sans", sans-serif';

// chemistry colour scheme
const chemistry = {
  G: '#1f9348', S: '#1f9348', T: '#1f9348', Y: '#1f9348', C: '#1f9348',
  N: '#6a2b8e', Q: '#6a2b8e',
  K: '#2b64a5', R: '#2b64a5', H: '#2b64a5',
  D: '#d52a3c', E: '#d52a3c'
};
const residueColor = aa => chemistry[aa] || '#141414';

const svg = d3.select('#chart')
  .attr('width', width)
  .attr('height', height)
  .attr('viewBox', `0 0 ${width} ${height}`);

svg.append('rect').attr('width', width).attr('height', height).attr('fill', '#fff');

// Tight glyph boxes, so each letter can be stretched to exactly fill its slot
const measureCtx = document.createElement('canvas').getContext('2d');
measureCtx.font = `100px "${LETTER_FONT}"`;
const glyphCache = {};
function glyphBox(ch) {
  if (!glyphCache[ch]) {
    const m = measureCtx.measureText(ch);
    glyphCache[ch] = {
      left: m.actualBoundingBoxLeft,
      ascent: m.actualBoundingBoxAscent,
      w: m.actualBoundingBoxLeft + m.actualBoundingBoxRight,
      h: m.actualBoundingBoxAscent + m.actualBoundingBoxDescent
    };
  }
  return glyphCache[ch];
}

function drawLetter(g, ch, x, y, w, h) {
  const box = glyphBox(ch);
  g.append('text')
    .attr('transform', `translate(${x},${y}) scale(${w / box.w},${h / box.h}) translate(${box.left},${box.ascent})`)
    .attr('font-family', LETTER_FONT)
    .attr('font-size', 100)
    .attr('fill', residueColor(ch))
    .text(ch);
}

function drawPanel(index) {
  const row = Math.floor(index / 3);
  const col = index % 3;
  const layout = rowLayout[row];
  const columns = panelColumns[index];
  const left = colLogoLeft[col];
  const logoH = layout.bottom - layout.top;

  const g = svg.append('g').attr('class', 'panel');

  const x = d3.scaleBand()
    .domain(d3.range(columns.length))
    .range([left, left + logoWidth])
    .paddingInner(0.03);
  const xLabels = d3.scaleBand()
    .domain(positionLabels)
    .range([left, left + logoWidth]);
  const y = d3.scaleLinear().domain([0, 1]).range([layout.bottom, layout.top]);
  const yAxisScale = d3.scaleLinear()
    .domain([0, 1])
    .range([layout.bottom - layout.axisFrac[0] * logoH, layout.bottom - layout.axisFrac[1] * logoH]);

  // letter stacks
  const logo = g.append('g').attr('class', 'logo');
  columns.forEach((stack, i) => {
    let level = 1;
    stack.forEach(([aa, p]) => {
      const y0 = y(level);
      const y1 = y(level - p);
      level -= p;
      const h = y1 - y0;
      if (h <= 0.2) return;
      const pad = h > 4 ? 0.4 : 0;
      drawLetter(logo, aa, x(i), y0 + pad, x.bandwidth(), h - 2 * pad);
    });
  });

  // y axis labels
  g.append('g')
    .attr('transform', `translate(${left},0)`)
    .call(d3.axisLeft(yAxisScale)
      .tickValues(probabilityTicks)
      .tickFormat(d3.format('.2f'))
      .tickSize(0)
      .tickPadding(24))
    .call(a => a.select('.domain').remove())
    .attr('font-family', LABEL_FONT)
    .attr('font-size', 20)
    .selectAll('text').attr('fill', '#111');

  // x axis position labels
  g.append('g')
    .attr('transform', `translate(0,${layout.bottom + layout.numGap})`)
    .call(d3.axisBottom(xLabels).tickSize(0).tickPadding(0))
    .call(a => a.select('.domain').remove())
    .attr('font-family', LABEL_FONT)
    .attr('font-size', 20)
    .selectAll('text').attr('fill', '#111');

  // y axis title
  g.append('text')
    .attr('transform', `translate(${left - 70},${(layout.top + layout.bottom) / 2 - 4}) rotate(-90)`)
    .attr('text-anchor', 'middle')
    .attr('font-family', LABEL_FONT)
    .attr('font-size', 26)
    .attr('fill', '#111')
    .text('probability');

  // panel title
  g.append('text')
    .attr('x', titleCenter[col])
    .attr('y', layout.titleY)
    .attr('text-anchor', 'middle')
    .attr('font-family', TITLE_FONT)
    .attr('font-size', 29)
    .attr('textLength', titleWidth[col] * (row === 2 ? 1.04 : 1))
    .attr('lengthAdjust', 'spacingAndGlyphs')
    .attr('fill', '#111')
    .text(panelTitles[index]);
}

panelTitles.forEach((t, i) => drawPanel(i));
</script>
</body>
</html>
